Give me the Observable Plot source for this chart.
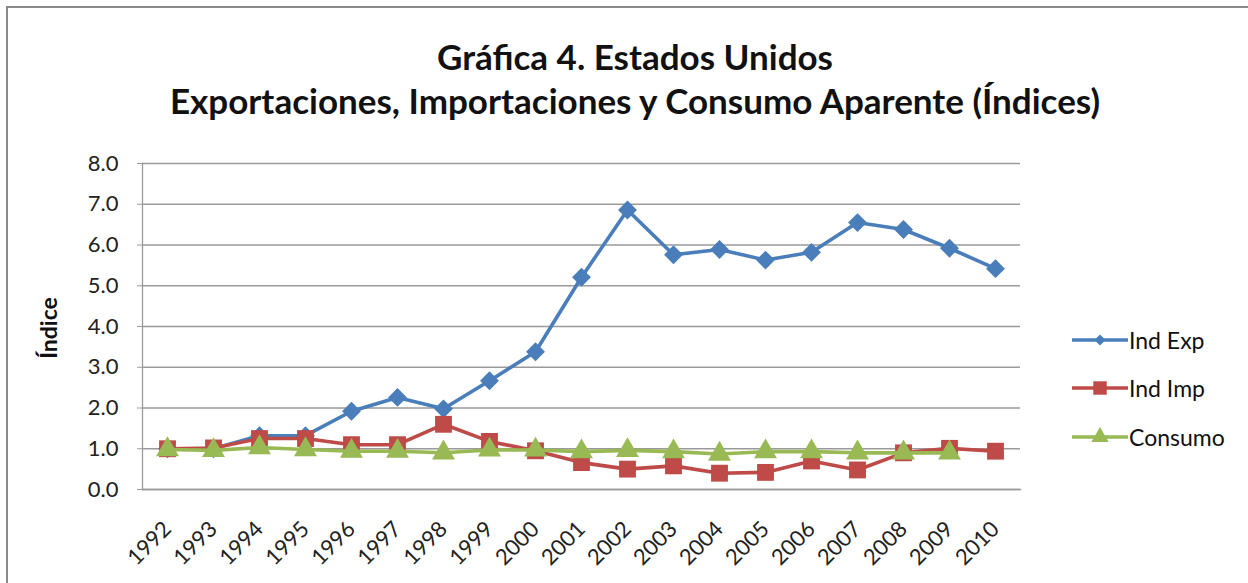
<!DOCTYPE html>
<html>
<head>
<meta charset="utf-8">
<script src="https://cdn.jsdelivr.net/npm/d3@7"></script>
<script src="https://cdn.jsdelivr.net/npm/@observablehq/plot@0.6"></script>
<style>
  body { margin: 0; background: #fff; font-family: Lato, "Open Sans", sans-serif; }
  #wrap { position: relative; width: 1248px; height: 583px; overflow: hidden; background: #fff; }
  #border { position: absolute; left: 6px; top: 6px; width: 1260px; height: 600px; border: 2px solid #8a8a8a; }
  #title { position: absolute; left: 0; top: 34px; width: 1270px; text-align: center; font-weight: bold; font-size: 35px; line-height: 44px; color: #111; }
  #chart { position: absolute; left: 0; top: 140px; }
  #ylabel { position: absolute; left: 48px; top: 328px; transform: translate(-50%, -50%) rotate(-90deg); font-weight: bold; font-size: 23px; white-space: nowrap; color: #111; }
  .leg { position: absolute; left: 1072px; height: 28px; display: flex; align-items: center; font-size: 23px; color: #111; }
  .leg svg { margin-right: 1px; }
</style>
</head>
<body>
<div id="wrap">
  <div id="border"></div>
  <div id="title">Gráfica 4. Estados Unidos<br>Exportaciones, Importaciones y Consumo Aparente (Índices)</div>
  <div id="chart"></div>
  <div id="ylabel">Índice</div>
  <div id="legend"></div>
</div>
<script>
const years = ["1992","1993","1994","1995","1996","1997","1998","1999","2000","2001","2002","2003","2004","2005","2006","2007","2008","2009","2010"];
const indExp = [1.0, 1.0, 1.32, 1.32, 1.92, 2.26, 1.98, 2.67, 3.38, 5.21, 6.86, 5.76, 5.89, 5.63, 5.82, 6.55, 6.38, 5.92, 5.42];
const indImp = [1.0, 1.02, 1.25, 1.25, 1.1, 1.1, 1.6, 1.18, 0.95, 0.66, 0.5, 0.58, 0.4, 0.42, 0.7, 0.48, 0.9, 1.01, 0.94];
const consumo = [0.98, 0.96, 1.03, 0.98, 0.94, 0.94, 0.9, 0.97, 0.97, 0.93, 0.96, 0.93, 0.87, 0.93, 0.93, 0.9, 0.9, 0.9];
const yTicks = [0, 1, 2, 3, 4, 5, 6, 7, 8];

const seriesNames = ["Ind Exp", "Ind Imp", "Consumo"];
const seriesColors = ["#4a7ebb", "#be4b48", "#98b954"];
const seriesSymbols = ["diamond2", "square", "triangle"];
const seriesR = [8.5, 9.5, 8.5];
const seriesValues = [indExp, indImp, consumo];

const rows = seriesValues.map((vals, i) => vals.map((v, j) => ({year: years[j], value: v, series: seriesNames[i]})));

const marks = [
  Plot.gridY(yTicks, {stroke: "#9a9a9a", strokeOpacity: 1, strokeWidth: 1.3}),
  Plot.frame({anchor: "left", stroke: "#9a9a9a", strokeWidth: 1.3}),
  Plot.frame({anchor: "bottom", stroke: "#9a9a9a", strokeWidth: 1.3}),
  Plot.axisY(yTicks, {tickFormat: d3.format(".1f"), tickSize: 5, tickPadding: 19, stroke: "#9a9a9a", fontSize: 22, label: null, color: "#222"}),
  Plot.axisX({tickRotate: -45, tickSize: 0, tickPadding: 36, fontSize: 22, label: null, color: "#222"})
];
rows.forEach((data, i) => {
  marks.push(Plot.line(data, {x: "year", y: "value", stroke: seriesColors[i], strokeWidth: 3.6, curve: "linear"}));
  marks.push(Plot.dot(data, {x: "year", y: "value", symbol: () => seriesSymbols[i], fill: seriesColors[i], r: seriesR[i], stroke: "none"}));
});

const chart = Plot.plot({
  width: 1248,
  height: 443,
  marginTop: 23,
  marginBottom: 94,
  marginLeft: 142,
  marginRight: 228,
  style: {fontFamily: "Lato, 'Open Sans', sans-serif", background: "transparent", color: "#222"},
  x: {type: "point", domain: years, padding: 0.5},
  y: {domain: [0, 8]},
  symbol: {type: "identity"},
  marks
});
document.getElementById("chart").appendChild(chart);

// legend
const legend = document.getElementById("legend");
const legTops = [326, 374, 423];
seriesNames.forEach((name, i) => {
  const item = document.createElement("div");
  item.className = "leg";
  item.style.top = legTops[i] + "px";
  const svg = d3.create("svg").attr("width", 56).attr("height", 28);
  svg.append("line").attr("x1", 0).attr("x2", 56).attr("y1", 14).attr("y2", 14).attr("stroke", seriesColors[i]).attr("stroke-width", 3.6);
  const sym = {diamond2: d3.symbolDiamond2, square: d3.symbolSquare, triangle: d3.symbolTriangle}[seriesSymbols[i]];
  const size = [80, 180, 130][i];
  svg.append("path").attr("transform", "translate(28,14)").attr("d", d3.symbol(sym, size)()).attr("fill", seriesColors[i]);
  item.appendChild(svg.node());
  const t = document.createElement("span");
  t.textContent = name;
  item.appendChild(t);
  legend.appendChild(item);
});
</script>
</body>
</html>
